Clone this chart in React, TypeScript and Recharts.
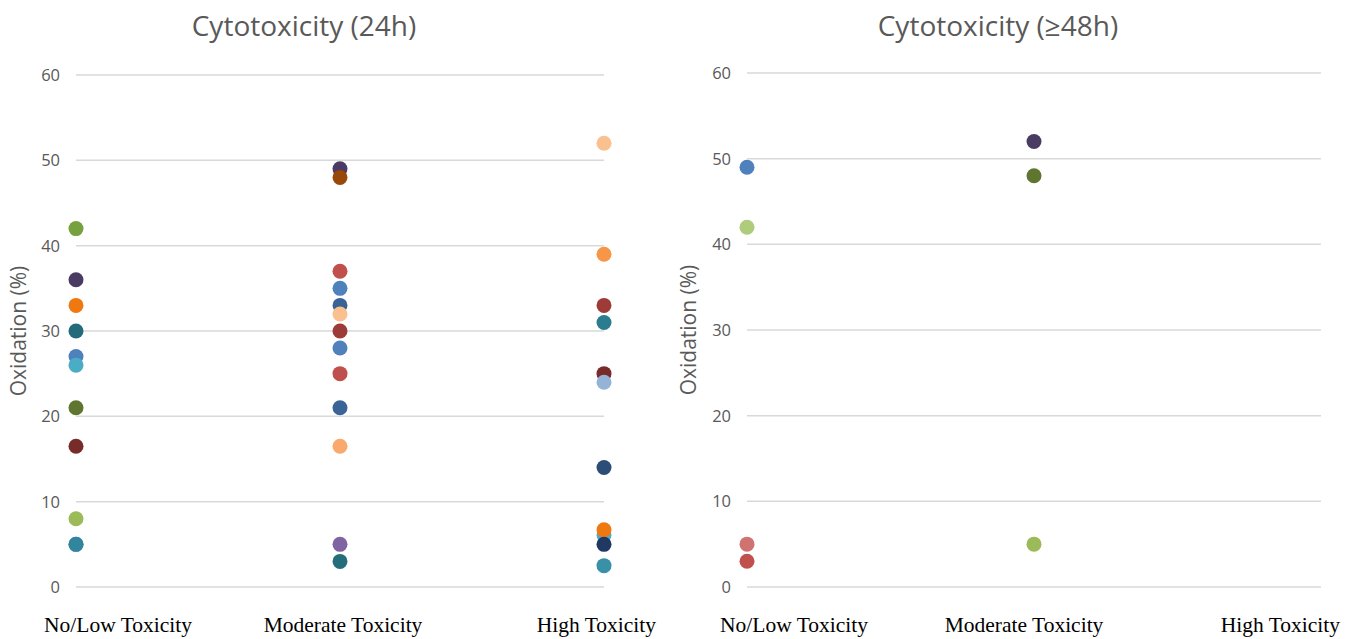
import React from 'react';
import { ScatterChart, Scatter, XAxis, YAxis, CartesianGrid, ZAxis } from 'recharts';

// ---- data ----
const categories = ['No/Low Toxicity', 'Moderate Toxicity', 'High Toxicity'];
const yTicks = [0, 10, 20, 30, 40, 50, 60];

// Cytotoxicity (24h)
const low24 = [42, 36, 33, 30, 27, 26, 21, 16.5, 8, 5, 5];
const moderate24 = [49, 48, 37, 35, 33, 32, 30, 28, 25, 21, 16.5, 5, 3];
const high24 = [52, 39, 33, 31, 25, 24, 14, 6.1, 6.7, 5, 2.5];

// Cytotoxicity (>=48h)
const low48 = [49, 42, 5, 3];
const moderate48 = [52, 48, 5];
const high48: number[] = [];

// ---- styles ----
const low24Colors = ['#77A03F', '#4A3B63', '#F07810', '#236A7A', '#4F81BD', '#4BACC6', '#5F7530', '#772C2A', '#9BBB59', '#4F81BD', '#31859C'];
const moderate24Colors = ['#4B3A63', '#984807', '#C0504D', '#4F81BD', '#3A6496', '#FAC090', '#9C3B38', '#4F81BD', '#C0504D', '#3A6496', '#F9A96B', '#8064A2', '#246D7B'];
const high24Colors = ['#FAC090', '#F79646', '#9C3B38', '#2C7C90', '#772C2A', '#95B3D7', '#2C4D75', '#4BACC6', '#F07810', '#1F3864', '#3891A7'];
const low48Colors = ['#4F81BD', '#AFCB7C', '#D07370', '#C0504D'];
const moderate48Colors = ['#4A3B63', '#5F7530', '#9BBB59'];
const high48Colors: string[] = [];

type Row = { x: number; y: number; color: string };

function buildRows(groups: number[][], colors: string[][]): Row[] {
  const rows: Row[] = [];
  groups.forEach((vals, ci) => {
    vals.forEach((v, i) => rows.push({ x: ci, y: v, color: colors[ci][i] }));
  });
  return rows;
}

const rows24 = buildRows([low24, moderate24, high24], [low24Colors, moderate24Colors, high24Colors]);
const rows48 = buildRows([low48, moderate48, high48], [low48Colors, moderate48Colors, high48Colors]);

const SANS = '"Open Sans", "Liberation Sans", sans-serif';
const SERIF = '"Liberation Serif", "DejaVu Serif", serif';
const GRAY = '#595959';

const Dot = (p: any) => <circle cx={p.cx} cy={p.cy} r={7.5} fill={p.payload.color} />;

function makeTick(offsets: { anchor: 'start' | 'middle' | 'end'; dx: number }[]) {
  return (props: any) => {
    const { x, y, payload, index } = props;
    const o = offsets[index] || { anchor: 'middle', dx: 0 };
    return (
      <text x={x + o.dx} y={y + 37} textAnchor={o.anchor} fontFamily={SERIF} fontSize={21.5} fill="#000">
        {categories[payload.value]}
      </text>
    );
  };
}

const YLabel = (props: any) => {
  const vb = props.viewBox;
  const cx = props.cx;
  const cy = vb.y + vb.height / 2;
  return (
    <text x={cx} y={cy} transform={`rotate(-90 ${cx} ${cy})`} textAnchor="middle" dominantBaseline="central" fontFamily={SANS} fontSize={21} fill={GRAY}>
      Oxidation (%)
    </text>
  );
};

type PanelProps = {
  rows: Row[];
  title: string;
  left: number;
  top: number;
  right: number;
  yAxisWidth: number;
  labelX: number;
  titleCenter: number;
  offsets: { anchor: 'start' | 'middle' | 'end'; dx: number }[];
};

function Panel({ rows, title, left, top, right, yAxisWidth, labelX, titleCenter, offsets }: PanelProps) {
  return (
    <div style={{ position: 'absolute', left, top: 0, width: 675, height: 639 }}>
      <div
        style={{
          position: 'absolute',
          left: titleCenter - 200,
          width: 400,
          top: 5,
          textAlign: 'center',
          fontFamily: SANS,
          fontSize: 28,
          color: GRAY,
          lineHeight: '40px',
        }}
      >
        {title}
      </div>
      <ScatterChart width={675} height={639} margin={{ top, right, bottom: 12, left: 0 }}>
        <CartesianGrid vertical={false} stroke="#D9D9D9" strokeWidth={1.5} />
        <XAxis
          type="number"
          dataKey="x"
          domain={[0, 2]}
          ticks={[0, 1, 2]}
          axisLine={false}
          tickLine={false}
          height={40}
          interval={0}
          tick={makeTick(offsets)}
        />
        <YAxis
          type="number"
          dataKey="y"
          domain={[0, 60]}
          ticks={yTicks}
          axisLine={false}
          tickLine={false}
          width={yAxisWidth}
          tickMargin={10}
          tick={{ fontFamily: SANS, fontSize: 16.5, fill: GRAY }}
          label={{ content: (p: any) => <YLabel {...p} cx={labelX} /> }}
        />
        <ZAxis range={[177, 177]} />
        <Scatter data={rows} shape={Dot} isAnimationActive={false} />
      </ScatterChart>
    </div>
  );
}

export default function App() {
  return (
    <div style={{ position: 'absolute', left: 0, top: 0, width: 1350, height: 639, background: '#fff', overflow: 'hidden' }}>
      <Panel
        rows={rows24}
        title="Cytotoxicity (24h)"
        left={0}
        top={75}
        right={71}
        yAxisWidth={76}
        labelX={18}
        titleCenter={304}
        offsets={[
          { anchor: 'start', dx: -32 },
          { anchor: 'middle', dx: 3 },
          { anchor: 'end', dx: 52 },
        ]}
      />
      <Panel
        rows={rows48}
        title="Cytotoxicity (≥48h)"
        left={675}
        top={73}
        right={29}
        yAxisWidth={72}
        labelX={13}
        titleCenter={323}
        offsets={[
          { anchor: 'start', dx: -27 },
          { anchor: 'middle', dx: -10 },
          { anchor: 'end', dx: 19 },
        ]}
      />
    </div>
  );
}
